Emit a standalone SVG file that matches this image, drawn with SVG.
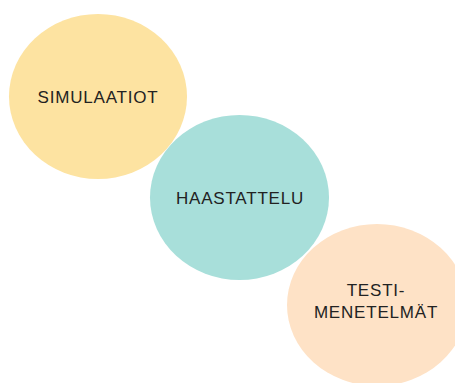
<svg xmlns="http://www.w3.org/2000/svg" width="455" height="383" viewBox="0 0 455 383">
<style>
.lbl{font-family:"Liberation Sans",Arial,sans-serif;font-size:17px;fill:#222;text-anchor:middle;letter-spacing:0.8px}
</style>
<rect width="455" height="383" fill="#fff"/>
<g id="connectors"></g>
<g id="simulaatiot">
<ellipse cx="98" cy="96.5" rx="89" ry="82.5" fill="#FDE3A1"/>
<text class="lbl" x="98" y="103">SIMULAATIOT</text>
</g>
<g id="haastattelu">
<ellipse cx="239.5" cy="197.5" rx="89.5" ry="82.5" fill="#A8DFDA"/>
<text class="lbl" x="240" y="204">HAASTATTELU</text>
</g>
<g id="testimenetelmat">
<ellipse cx="377" cy="305" rx="90" ry="81" fill="#FEE2C6"/>
<text class="lbl" x="376" y="296">TESTI-</text>
<text class="lbl" x="376" y="318">MENETELMÄT</text>
</g>
</svg>
